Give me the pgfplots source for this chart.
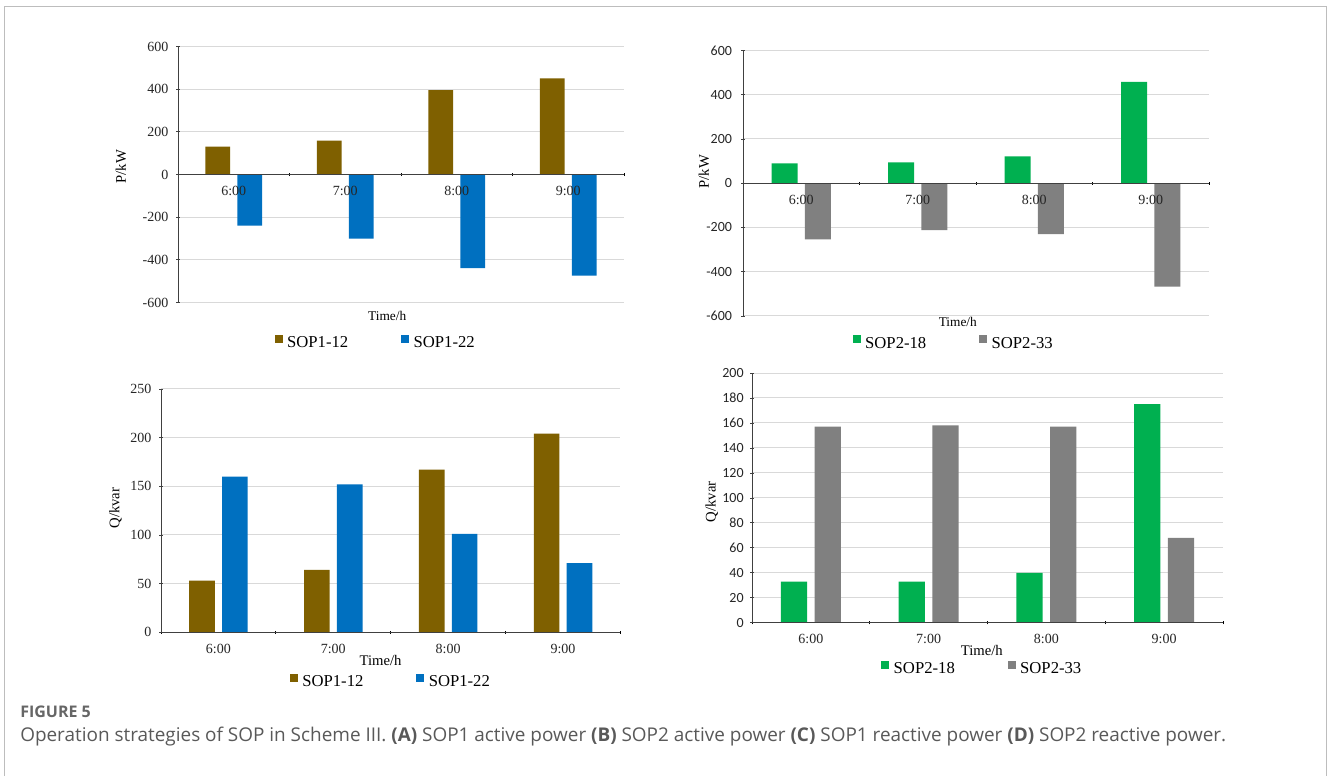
\documentclass[border=0pt]{standalone}
\usepackage{fontspec}
\setmainfont{Liberation Serif}
\newfontfamily\capfont{Open Sans}
\newfontfamily\calibri{Carlito}
\usepackage{pgfplots}
\pgfplotsset{compat=1.18}
\definecolor{brownc}{HTML}{7F6000}
\definecolor{bluec}{HTML}{0070C0}
\definecolor{greenc}{HTML}{00B050}
\definecolor{grayc}{HTML}{808080}
\definecolor{gridc}{HTML}{D9D9D9}
\definecolor{axisc}{HTML}{404040}
\definecolor{framec}{HTML}{BDBDBD}
\definecolor{capc}{HTML}{595959}
\pgfplotsset{
  gridonly/.style={
    anchor=south west, scale only axis,
    xmin=-0.5, xmax=3.5, xtick=\empty,
    yticklabels={}, major tick length=0pt,
    axis line style={draw=none}, tick style={draw=none},
    ymajorgrids, grid style={color=gridc, line width=0.75pt},
  },
  panel/.style={
    axis on top,
    anchor=south west, scale only axis,
    xmin=-0.5, xmax=3.5,
    tick align=outside,
    major tick length=2.5pt, minor tick length=2.5pt,
    hide obscured x ticks=false, hide obscured y ticks=false,
    xtick={0,1,2,3}, xticklabels={6:00,7:00,8:00,9:00},
    minor xtick={-0.5,0.5,1.5,2.5,3.5},
    major x tick style={draw=none},
    minor x tick style={color=black, line width=0.6pt},
    ytick style={color=axisc, line width=0.6pt},
    tick label style={font=\fontsize{10.5}{12}\selectfont, text=black!85},
    xticklabel style={anchor=center, yshift=-11pt},
    label style={font=\fontsize{11}{13}\selectfont},
    xlabel=Time/h,
    legend columns=2, legend cell align=left,
    legend image code/.code={\fill[##1,draw=none] (0pt,0.3pt) rectangle (6pt,6.3pt);},
    legend style={draw=none, fill=none, inner sep=0pt, outer sep=0pt, anchor=west,
      font=\fontsize{12.5}{14}\selectfont,
      nodes={inner xsep=3.5pt, inner ysep=1.5pt},
      /tikz/every even column/.append style={column sep=36pt}},
  },
  nolinearrows/.style={
    axis line style={-, color=axisc, line width=0.7pt},
    every inner x axis line/.append style={-},
    every outer x axis line/.append style={-},
    every inner y axis line/.append style={-},
    every outer y axis line/.append style={-},
  },
  b1/.style={ybar, draw=none, bar width=0.223, bar shift=-0.143},
  b2/.style={ybar, draw=none, bar width=0.223, bar shift=0.143},
}
\begin{document}
\begin{tikzpicture}
\fill[white] (0pt,0pt) rectangle (996pt,-582pt);
\draw[color=framec, line width=0.8pt] (3.4pt,-582pt) -- (3.4pt,-4.9pt) -- (995pt,-4.9pt) -- (995pt,-582pt);
% (A)
\begin{axis}[gridonly, at={(133.5pt,-226.875pt)}, width=334.5pt, height=192pt,
  ymin=-600, ymax=600, ytick={-600,-400,-200,0,200,400,600}]
\end{axis}
\begin{axis}[panel,
  at={(133.5pt,-226.875pt)}, width=334.5pt, height=192pt,
  axis x line=middle, axis y line=left, nolinearrows,
  ymin=-600, ymax=600,
  ytick={-600,-400,-200,0,200,400,600},
  yticklabels={-600,-400,-200,0,200,400,600},
  yticklabel style={xshift=-2.5pt},
  ylabel=P/kW,
  ylabel style={at={(axis description cs:-0.128,0.53)}, anchor=center, rotate=0},
  xlabel style={at={(axis description cs:0.469,-0.053)}, anchor=center},
  legend style={at={(axis description cs:0.2164,-0.158)}},
]
\addplot[b1, fill=brownc] coordinates {(0,131) (1,159) (2,396) (3,450)};
\addplot[b2, fill=bluec] coordinates {(0,-240) (1,-301) (2,-439) (3,-474)};
\legend{SOP1-12, SOP1-22}
\end{axis}
% (B)
\begin{axis}[gridonly, at={(557.25pt,-237pt)}, width=349.5pt, height=199.125pt,
  ymin=-600, ymax=600, ytick={-600,-400,-200,0,200,400,600}]
\end{axis}
\begin{axis}[panel,
  at={(557.25pt,-237pt)}, width=349.5pt, height=199.125pt,
  axis x line=middle, axis y line=left, nolinearrows,
  ymin=-600, ymax=600,
  ytick={-600,-400,-200,0,200,400,600},
  yticklabels={-600,-400,-200,0,200,400,600},
  yticklabel style={font=\calibri\fontsize{10.5}{12}\selectfont, xshift=-3.5pt},
  ylabel=P/kW,
  ylabel style={at={(axis description cs:-0.0837,0.543)}, anchor=center},
  xlabel style={at={(axis description cs:0.461,-0.0215)}, anchor=center},
  legend style={at={(axis description cs:0.235,-0.105)}},
]
\addplot[b1, fill=greenc] coordinates {(0,90) (1,94) (2,121) (3,458)};
\addplot[b2, fill=grayc] coordinates {(0,-254) (1,-212) (2,-230) (3,-467)};
\legend{SOP2-18, SOP2-33}
\end{axis}
% (C)
\begin{axis}[gridonly, at={(120.75pt,-474.2pt)}, width=344.6pt, height=182.5pt,
  ymin=0, ymax=250, ytick={0,50,100,150,200,250}]
\end{axis}
\begin{axis}[panel,
  at={(120.75pt,-474.2pt)}, width=344.6pt, height=182.5pt,
  axis x line=bottom, axis y line=left, nolinearrows,
  ymin=0, ymax=250,
  ytick={0,50,100,150,200,250},
  yticklabels={0,50,100,150,200,250},
  yticklabel style={xshift=-2.5pt},
  ylabel=Q/kvar,
  ylabel style={at={(axis description cs:-0.099,0.51)}, anchor=center},
  xlabel style={at={(axis description cs:0.478,-0.114)}, anchor=center},
  legend style={at={(axis description cs:0.280,-0.204)}},
]
\addplot[b1, fill=brownc] coordinates {(0,53) (1,64) (2,167) (3,204)};
\addplot[b2, fill=bluec] coordinates {(0,160) (1,152) (2,101) (3,71)};
\legend{SOP1-12, SOP1-22}
\end{axis}
% (D)
\begin{axis}[gridonly, at={(564pt,-467.1pt)}, width=353.25pt, height=187.35pt,
  ymin=0, ymax=200, ytick={0,20,40,60,80,100,120,140,160,180,200}]
\end{axis}
\begin{axis}[panel,
  at={(564pt,-467.1pt)}, width=353.25pt, height=187.35pt,
  axis x line=bottom, axis y line=left, nolinearrows,
  ymin=0, ymax=200,
  ytick={0,20,40,60,80,100,120,140,160,180,200},
  yticklabels={0,20,40,60,80,100,120,140,160,180,200},
  yticklabel style={font=\calibri\fontsize{10.5}{12}\selectfont, xshift=-1.5pt},
  ylabel=Q/kvar,
  ylabel style={at={(axis description cs:-0.0856,0.485)}, anchor=center},
  xlabel style={at={(axis description cs:0.488,-0.109)}, anchor=center},
  legend style={at={(axis description cs:0.274,-0.185)}},
]
\addplot[b1, fill=greenc] coordinates {(0,33) (1,33) (2,40) (3,175)};
\addplot[b2, fill=grayc] coordinates {(0,157) (1,158) (2,157) (3,68)};
\legend{SOP2-18, SOP2-33}
\end{axis}
\node[anchor=west, font=\capfont\bfseries\fontsize{12}{14}\selectfont, text=black!60, inner sep=0pt] at (15pt,-534pt) {FIGURE 5};
\node[anchor=west, font=\capfont\fontsize{14.2}{16}\selectfont, text=capc, inner sep=0pt] at (15pt,-552.75pt) {Operation strategies of SOP in Scheme III. \textbf{(A)} SOP1 active power \textbf{(B)} SOP2 active power \textbf{(C)} SOP1 reactive power \textbf{(D)} SOP2 reactive power.};
\end{tikzpicture}
\end{document}
